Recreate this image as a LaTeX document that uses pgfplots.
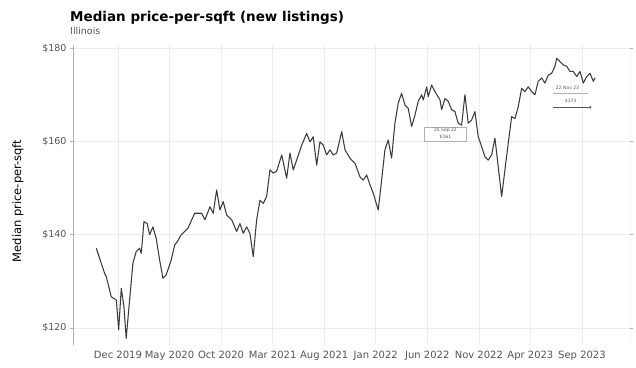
\documentclass[border=0pt]{standalone}
\usepackage{pgfplots}
\pgfplotsset{compat=1.18}
\usepackage{fontspec}
\setmainfont{DejaVu Sans}
\definecolor{linec}{HTML}{3A3A3A}
\definecolor{gridc}{HTML}{EDEDED}
\definecolor{axc}{HTML}{B0B0B0}
\definecolor{tickc}{HTML}{555555}
\begin{document}
\begin{tikzpicture}[x=1pt,y=1pt]
\useasboundingbox (0,0) rectangle (636,367);
\node[anchor=base west, font=\fontsize{13.5}{15}\selectfont\bfseries, inner sep=0pt] at (70,345) {Median price-per-sqft (new listings)};
\node[anchor=base west, font=\fontsize{9.5}{11}\selectfont, text=tickc, inner sep=0pt] at (70,332) {Illinois};
\begin{axis}[
  at={(73pt,22pt)}, anchor=south west,
  scale only axis, width=557pt, height=300pt,
  xmin=-4.36, xmax=49.66, ymin=116.36, ymax=180.67,
  axis line style={draw=none},
  xtick={0,5,10,15,20,25,30,35,40,45},
  xticklabels={Dec 2019,May 2020,Oct 2020,Mar 2021,Aug 2021,Jan 2022,Jun 2022,Nov 2022,Apr 2023,Sep 2023},
  ytick={120,140,160,180},
  yticklabels={\$120,\$140,\$160,\$180},
  grid=major, major grid style={gridc, line width=0.6pt},
  xtick style={draw=none},
  ytick style={axc, line width=0.5pt},
  tick align=outside, major tick length=3pt,
  ticklabel style={font=\fontsize{9.5}{11}\selectfont, text=tickc},
  xticklabel style={font=\fontsize{10}{11}\selectfont},
  /pgf/number format/assume math mode=true,
  ylabel={Median price-per-sqft},
  every axis y label/.style={at={(axis description cs:-0.099,0.48)}, rotate=90, anchor=center, font=\fontsize{11.5}{13}\selectfont},
]
\draw[axc, line width=0.7pt] (rel axis cs:0,0) -- (rel axis cs:0,1);
\draw[gridc!80!gray, line width=0.6pt] (rel axis cs:1,0) -- (rel axis cs:1,1);
\addplot[linec, line width=1.05pt, line join=round] coordinates {
(-2.10,137.1) (-1.29,131.7) (-1.13,131.0) (-0.65,126.7) (-0.16,126.0) (0.07,119.6)
(0.32,128.5) (0.58,124.6) (0.80,117.8) (1.13,126.0) (1.45,133.9) (1.77,136.4)
(2.10,137.1) (2.26,136.0) (2.52,142.8) (2.84,142.4) (3.07,140.0) (3.39,141.7)
(3.71,139.2) (4.04,134.6) (4.36,130.7) (4.68,131.4) (5.17,134.6) (5.50,137.8)
(5.75,138.5) (6.14,140.0) (6.79,141.4) (7.44,144.6) (8.12,144.6) (8.44,143.2)
(8.92,146.0) (9.24,144.6) (9.57,149.6) (9.89,145.3) (10.21,147.1) (10.54,144.2)
(11.03,143.2) (11.51,140.7) (11.83,142.4) (12.15,140.3) (12.48,141.7) (12.80,140.3)
(13.12,135.3) (13.45,143.2) (13.77,147.4) (14.09,146.7) (14.42,148.2) (14.74,153.9)
(15.06,153.2) (15.39,153.6) (15.88,157.1) (16.36,152.1) (16.68,157.5) (17.00,153.9)
(17.33,156.0) (17.82,159.2) (18.30,161.7) (18.62,159.9) (18.94,161.0) (19.27,154.9)
(19.59,159.9) (19.91,159.2) (20.24,157.1) (20.56,158.2) (20.88,157.1) (21.21,157.5)
(21.70,162.1) (22.02,158.2) (22.50,156.4) (22.99,155.3) (23.47,152.4) (23.79,151.7)
(24.12,152.8) (24.44,150.7) (24.76,148.9) (25.24,145.3) (25.57,151.7) (25.89,158.2)
(26.21,160.3) (26.54,156.4) (26.86,163.9) (27.18,168.2) (27.51,170.3) (27.84,167.8)
(28.15,167.1) (28.48,163.2) (28.81,165.7) (29.12,168.6) (29.45,170.0) (29.61,168.9)
(29.94,171.7) (30.09,169.6) (30.42,172.1) (30.74,170.7) (31.23,168.9) (31.39,166.8)
(31.71,169.2) (32.03,168.6) (32.36,166.8) (32.68,166.4) (33.00,163.9) (33.33,163.5)
(33.65,170.0) (33.97,163.9) (34.30,164.6) (34.62,166.4) (34.94,161.0) (35.27,158.9)
(35.59,156.7) (35.91,156.0) (36.24,157.1) (36.56,160.7) (36.88,154.6) (37.21,148.2)
(37.53,153.9) (37.85,159.6) (38.18,165.3) (38.50,164.9) (38.82,167.4) (39.15,171.4)
(39.47,170.7) (39.79,171.7) (40.12,170.7) (40.44,170.0) (40.76,172.9) (41.09,173.6)
(41.41,172.5) (41.73,174.2) (42.06,174.6) (42.38,176.1) (42.55,177.8) (42.87,177.1)
(43.19,176.4) (43.52,176.1) (43.84,175.0) (44.16,175.0) (44.49,173.9) (44.81,175.0)
(45.13,172.5) (45.46,173.9) (45.78,174.6) (46.10,172.9) (46.27,173.6)
};
% annotation: Sep 2022
\node[draw=axc, line width=0.4pt, fill=white, font=\fontsize{4.5}{6}\selectfont, text=tickc, align=center, inner sep=1.5pt, minimum width=42pt] at (axis cs:31.76,161.6) {25 Sep 22\\[1pt]\$161};
% annotation: latest
\node[font=\fontsize{4.5}{6}\selectfont, text=tickc, inner sep=0pt] at (axis cs:43.6,171.4) {22 Nov 23};
\draw[axc, line width=0.4pt] (axis cs:42.2,170.4) -- (axis cs:45.6,170.4);
\node[font=\fontsize{4.5}{6}\selectfont, text=tickc, inner sep=0pt] at (axis cs:43.9,168.6) {\$173};
\draw[tickc, line width=0.4pt] (axis cs:42.2,167.4) -- (axis cs:45.7,167.4);
\addplot[only marks, mark=*, mark size=0.9pt, tickc] coordinates {(45.8,167.3)};
\end{axis}
\end{tikzpicture}
\end{document}
